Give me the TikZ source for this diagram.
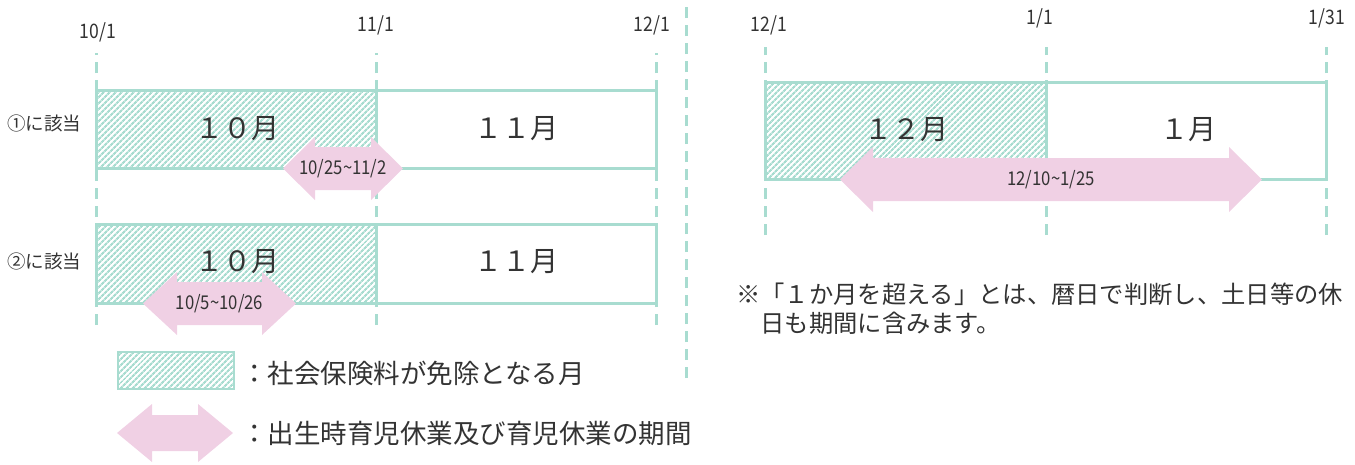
\documentclass[tikz,border=0pt]{standalone}
\usepackage{fontspec}
\setmainfont{Noto Sans CJK JP}
\newfontfamily\numf[FakeStretch=0.88]{Noto Sans CJK JP}
\usetikzlibrary{patterns.meta}
\definecolor{teal1}{RGB}{168,220,208}
\definecolor{pinkA}{RGB}{240,208,228}
\definecolor{txt}{RGB}{51,51,51}
\tikzset{
  guide/.style={draw=teal1, line width=3pt, dash pattern=on 11pt off 7pt},
  box/.style={draw=teal1, line width=3pt},
  hatch/.style={pattern={Lines[angle=45,distance=4pt,line width=2.2pt]}, pattern color=teal1},
  datelbl/.style={font=\numf\fontsize{20}{20}\selectfont, text=txt, inner sep=0pt},
  arrowlbl/.style={font=\numf\fontsize{19}{19}\selectfont, text=txt, inner sep=0pt},
  monthlbl/.style={font=\fontsize{28}{28}\selectfont, text=txt, inner sep=0pt},
  rowlbl/.style={font=\fontsize{18.5}{18.5}\selectfont, text=txt, inner sep=0pt, anchor=west},
  legendlbl/.style={font=\fontsize{26.5}{26.5}\selectfont, text=txt, inner sep=0pt, anchor=west},
  notelbl/.style={font=\fontsize{24.3}{28.5}\selectfont, text=txt, inner sep=0pt, anchor=north west, align=left},
}
% name, x left tip, x right tip, y centre, head half, shaft half, head length, label
\newcommand\pinkarrow[8]{%
  \fill[pinkA] (#2,#4) -- ({#2+#7},{#4-#5}) -- ({#2+#7},{#4-#6}) -- ({#3-#7},{#4-#6})
     -- ({#3-#7},{#4-#5}) -- (#3,#4) -- ({#3-#7},{#4+#5}) -- ({#3-#7},{#4+#6})
     -- ({#2+#7},{#4+#6}) -- ({#2+#7},{#4+#5}) -- cycle;
  \node[arrowlbl] (#1) at ({(#2+#3)/2},#4) {#8};}
\begin{document}
\begin{tikzpicture}[x=1pt,y=-1pt]
\useasboundingbox (0,0) rectangle (1355,464);

% ---------- guide lines ----------
\foreach \gx in {96,376,656} \draw[guide] (\gx,325) -- (\gx,53);
\foreach \gx in {765,1046,1326} \draw[guide] (\gx,235) -- (\gx,47);
\draw[guide] (686,378) -- (686,0);

% ---------- date labels ----------
\node[datelbl] (d101) at (98,32) {10/1};
\node[datelbl] (d111) at (376,25) {11/1};
\node[datelbl] (d121a) at (652,25) {12/1};
\node[datelbl] (d121b) at (769,25) {12/1};
\node[datelbl] (d11) at (1040,18) {1/1};
\node[datelbl] (d131) at (1327,18) {1/31};

% ---------- row 1 ----------
\fill[white] (96,90) rectangle (656,168);
\fill[hatch] (96,90) rectangle (376,168);
\draw[box] (96,90) rectangle (656,168);
\draw[box] (376,90) -- (376,168);
\node[rowlbl] (r1) at (7,123) {①に該当};
\node[monthlbl] (m1a) at (237,129) {１０月};
\node[monthlbl] (m1b) at (516,129) {１１月};
\pinkarrow{a1}{283}{403}{168.5}{31.5}{21.5}{32}{10/25\textasciitilde 11/2}

% ---------- row 2 ----------
\fill[white] (96,224) rectangle (656,303);
\fill[hatch] (96,224) rectangle (376,303);
\draw[box] (96,224) rectangle (656,303);
\draw[box] (376,224) -- (376,303);
\node[rowlbl] (r2) at (7,261) {②に該当};
\node[monthlbl] (m2a) at (237,262) {１０月};
\node[monthlbl] (m2b) at (516,262) {１１月};
\pinkarrow{a2}{143}{296}{303.5}{31.5}{21.5}{34}{10/5\textasciitilde 10/26}

% ---------- right panel ----------
\fill[white] (765,82) rectangle (1326,179);
\fill[hatch] (765,82) rectangle (1046,179);
\draw[box] (765,82) rectangle (1326,179);
\draw[box] (1046,82) -- (1046,179);
\node[monthlbl] (m3a) at (906,130) {１２月};
\node[monthlbl] (m3b) at (1188,130) {１月};
\pinkarrow{a3}{840}{1262}{179.5}{32.5}{21.5}{33}{12/10\textasciitilde 1/25}

\node[notelbl] (note) at (736,283) {※「１か月を超える」とは、暦日で判断し、土日等の休\\\hspace*{1em}日も期間に含みます。};

% ---------- legend ----------
\fill[hatch] (118,352) rectangle (234,389);
\draw[teal1, line width=1.5pt] (118,352) rectangle (234,389);
\node[legendlbl] (lg1) at (241,373) {：社会保険料が免除となる月};
\pinkarrow{lga}{117}{233}{433}{29}{18}{35}{}
\node[legendlbl] (lg2) at (241,433) {：出生時育児休業及び育児休業の期間};
\end{tikzpicture}
\end{document}
